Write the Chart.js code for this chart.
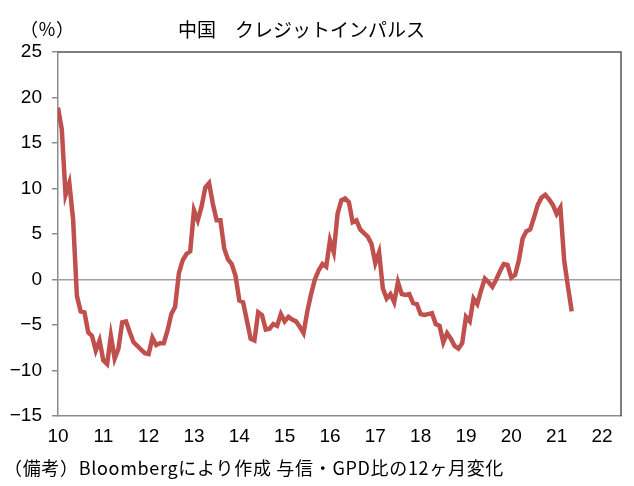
<!DOCTYPE html>
<html>
<head>
<meta charset="utf-8">
<script src="https://cdn.jsdelivr.net/npm/chart.js@4.4.1/dist/chart.umd.min.js"></script>
<style>
  html, body { margin: 0; padding: 0; background: #fff; }
  #wrap { width: 634px; height: 486px; }
</style>
</head>
<body>
<div id="wrap"><canvas id="creditImpulseChart" width="634" height="486"></canvas></div>
<script>
// ==========================
// データ（月次、2010年1月〜）
// ==========================
const START_YEAR = 10;
const impulse = [
  18.9, 16.5, 9.3, 10.6, 6.6, -1.8, -3.5, -3.6, -5.8, -6.2, -7.8, -6.7,
  -8.9, -9.3, -6.2, -8.7, -7.6, -4.7, -4.6, -5.8, -6.9, -7.3, -7.7, -8.1,
  -8.2, -6.4, -7.2, -7.0, -7.0, -5.6, -3.8, -3.0, 0.7, 2.1, 2.8, 3.1,
  7.6, 6.5, 8.0, 10.1, 10.6, 8.3, 6.5, 6.5, 3.4, 2.2, 1.7, 0.4,
  -2.3, -2.5, -4.5, -6.5, -6.7, -3.6, -3.9, -5.5, -5.4, -4.9, -5.1, -3.8,
  -4.6, -4.1, -4.4, -4.6, -5.2, -5.9, -3.5, -1.6, 0.0, 1.0, 1.7, 1.4,
  4.3, 3.0, 7.2, 8.7, 8.9, 8.5, 6.3, 6.5, 5.5, 5.1, 4.7, 3.9,
  1.8, 3.0, -1.0, -2.1, -1.6, -2.5, -0.3, -1.6, -1.7, -1.6, -2.6, -2.7,
  -3.8, -3.9, -3.8, -3.7, -4.9, -5.1, -6.9, -5.9, -6.5, -7.3, -7.6, -7.0,
  -4.1, -4.6, -2.1, -2.7, -1.2, 0.1, -0.3, -0.8, 0.0, 0.9, 1.7, 1.6,
  0.2, 0.5, 2.1, 4.5, 5.3, 5.5, 6.8, 8.2, 9.0, 9.3, 8.8, 8.2,
  7.2, 7.9, 2.1, -0.8, -3.5
];
const xTicks = [10, 11, 12, 13, 14, 15, 16, 17, 18, 19, 20, 21, 22];
const yTicks = [-15, -10, -5, 0, 5, 10, 15, 20, 25];

const TITLE = "中国　クレジットインパルス";
const UNIT = "（％）";
const NOTE = "（備考）Bloombergにより作成 与信・GPD比の12ヶ月変化";

// 月次の位置（年 + 月/12）
const points = impulse.map((v, i) => ({ x: START_YEAR + i / 12, y: v }));

const TICK_FONT = { family: "'Liberation Sans', sans-serif", size: 19 };

// ========== 枠線とテキスト ==========
const decorations = {
  id: "decorations",
  afterDraw(chart) {
    const { ctx, chartArea: { left, top, right, bottom } } = chart;
    ctx.save();

    // 上と右の枠
    ctx.strokeStyle = "#555";
    ctx.lineWidth = 1.5;
    ctx.beginPath();
    ctx.moveTo(left, top);
    ctx.lineTo(right, top);
    ctx.lineTo(right, bottom);
    ctx.stroke();

    ctx.fillStyle = "#000";
    ctx.textBaseline = "middle";
    ctx.font = "19px 'Noto Sans CJK JP'";
    ctx.fillText(TITLE, 178, 30);

    ctx.font = "18px 'Noto Sans CJK JP'";
    ctx.fillText(UNIT, 20, 29);

    // 備考（幅を合わせる）
    ctx.font = "18px 'Noto Sans CJK JP'";
    const w = ctx.measureText(NOTE).width;
    const n = [...NOTE].length;
    ctx.letterSpacing = ((500 - w) / n) + "px";
    ctx.fillText(NOTE, 4, 468);

    ctx.restore();
  }
};

new Chart(document.getElementById("creditImpulseChart"), {
  type: "line",
  data: {
    datasets: [{
      data: points,
      borderColor: "#C0504D",
      borderWidth: 4.5,
      pointRadius: 0,
      tension: 0,
      fill: false
    }]
  },
  options: {
    responsive: false,
    animation: false,
    layout: { padding: { top: 52, right: 13, left: 0, bottom: 0 } },
    plugins: {
      legend: { display: false },
      tooltip: { enabled: false }
    },
    scales: {
      x: {
        type: "linear",
        min: 10,
        max: 22.42,
        afterBuildTicks: axis => { axis.ticks = xTicks.map(v => ({ value: v })); },
        afterFit: axis => { axis.height = 70; },
        grid: { display: false, drawTicks: false },
        border: { display: true, color: "#8c8c8c", width: 1.5 },
        ticks: { color: "#000", font: TICK_FONT, padding: 9, maxRotation: 0, autoSkip: false }
      },
      y: {
        min: -15,
        max: 25,
        afterBuildTicks: axis => { axis.ticks = yTicks.map(v => ({ value: v })); },
        afterFit: axis => { axis.width = 58; },
        grid: {
          drawOnChartArea: true,
          color: c => (c.tick && c.tick.value === 0) ? "#a0a0a0" : "rgba(0,0,0,0)",
          lineWidth: 1.5,
          tickColor: "#8c8c8c",
          tickLength: 6
        },
        border: { display: true, color: "#8c8c8c", width: 1.5 },
        ticks: {
          color: "#000",
          font: TICK_FONT,
          padding: 10,
          callback: v => (v < 0 ? "\u2212" + Math.abs(v) : String(v))
        }
      }
    }
  },
  plugins: [decorations]
});
</script>
</body>
</html>
